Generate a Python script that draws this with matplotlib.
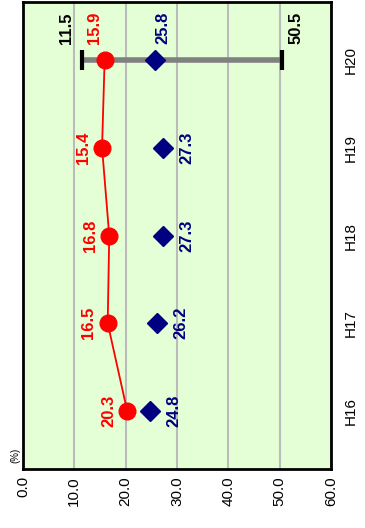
import matplotlib.pyplot as plt

plt.rcParams["font.family"] = ["Liberation Sans", "DejaVu Sans"]

years = ["H16", "H17", "H18", "H19", "H20"]
red_vals = [20.3, 16.5, 16.8, 15.4, 15.9]
navy_vals = [24.8, 26.2, 27.3, 27.3, 25.8]
range_low = 11.5
range_high = 50.5
x_ticks = [0, 10, 20, 30, 40, 50, 60]

RED = "#FF0000"
NAVY = "#000080"

fig = plt.figure(figsize=(3.65, 5.28), dpi=100)
ax = fig.add_axes([23 / 365, 59 / 528, 308 / 365, 467 / 528])
ax.set_facecolor("#E4FFD6")

pos = list(range(len(years)))

# range bar for the latest year
ax.plot([range_low, range_high], [pos[-1], pos[-1]], color="#808080",
        lw=4, solid_capstyle="butt", zorder=2)
ax.plot([range_low, range_high], [pos[-1], pos[-1]], ls="none",
        marker="|", ms=15, mew=3, color="black", zorder=3)

ax.plot(red_vals, pos, color=RED, lw=1.3, marker="o", ms=12,
        mfc=RED, mec=RED, zorder=4)
ax.plot(navy_vals, pos, ls="none", marker="D", ms=10,
        color=NAVY, zorder=4)

bold = dict(fontsize=12, fontweight="bold", rotation=90,
            ha="center", va="center")
for i, (r, n) in enumerate(zip(red_vals, navy_vals)):
    if i == len(years) - 1:
        ax.annotate(f"{r:.1f}", (r, i), xytext=(-7, 23),
                    textcoords="offset points", color=RED, **bold)
        ax.annotate(f"{n:.1f}", (n, i), xytext=(5, 23),
                    textcoords="offset points", color=NAVY, **bold)
    else:
        ax.annotate(f"{r:.1f}", (r, i), xytext=(-13.5, 0),
                    textcoords="offset points", color=RED, **bold)
        ax.annotate(f"{n:.1f}", (n, i), xytext=(17, 0),
                    textcoords="offset points", color=NAVY, **bold)

ax.annotate(f"{range_low:.1f}", (range_low, pos[-1]), xytext=(-11.5, 23),
            textcoords="offset points", color="black", **bold)
ax.annotate(f"{range_high:.1f}", (range_high, pos[-1]), xytext=(10, 23),
            textcoords="offset points", color="black", **bold)

ax.set_xlim(0, 60)
ax.set_ylim(-0.66, 4.66)
ax.set_xticks(x_ticks)
ax.set_xticklabels([f"{v:.1f}" for v in x_ticks], rotation=90,
                   fontsize=11, va="top")
ax.set_yticks(pos)
ax.set_yticklabels(years, rotation=90, fontsize=11, va="center")
ax.yaxis.tick_right()
ax.tick_params(axis="both", length=0)
ax.tick_params(axis="y", pad=9)
ax.tick_params(axis="x", pad=5)

ax.grid(axis="x", color="#BBBBBB", lw=1.5)
ax.set_axisbelow(True)
for s in ax.spines.values():
    s.set_linewidth(2)
    s.set_color("black")

ax.text(-0.025, 0.03, "(%)", transform=ax.transAxes, rotation=90,
        fontsize=7, ha="center", va="center")

fig.savefig("out.png", dpi=100)
